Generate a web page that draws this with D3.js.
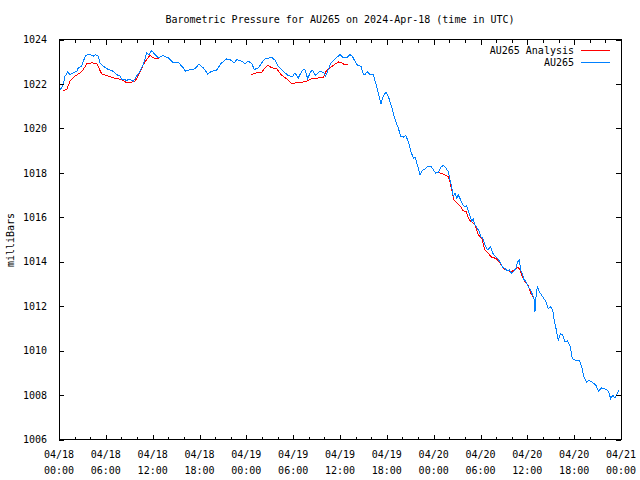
<!DOCTYPE html>
<html>
<head>
<meta charset="utf-8">
<script src="https://cdn.jsdelivr.net/npm/d3@7"></script>
<style>
html,body{margin:0;padding:0;background:#fff;}
svg text{font-family:"DejaVu Sans Mono","Liberation Mono",monospace;font-size:10px;fill:#000;}
</style>
</head>
<body>
<svg id="chart" width="640" height="480"></svg>
<script>
// ---- data (hours since 2024-04-18 00:00 UTC, pressure in mb) ----
const title = "Barometric Pressure for AU265 on 2024-Apr-18 (time in UTC)";
const yLabel = "milliBars";
const seriesNames = ["AU265 Analysis", "AU265"];
const yTicks = [1006, 1008, 1010, 1012, 1014, 1016, 1018, 1020, 1022, 1024];
const startTime = "2024-04-18T00:00:00Z";

const stationHours = [0.13,0.55,0.77,1.11,1.41,1.83,2.27,2.47,2.91,3.11,3.42,3.97,4.39,4.70,5.03,5.25,5.68,6.32,6.96,7.39,7.81,8.03,8.67,9.10,9.52,9.95,10.38,10.80,11.23,11.53,11.88,12.30,12.72,13.36,14.00,14.64,15.28,15.92,16.23,16.78,17.42,17.94,18.49,19.05,19.56,20.20,20.75,21.48,22.03,22.46,22.76,23.41,23.83,24.25,24.69,25.02,25.53,25.97,26.39,26.90,27.16,27.67,28.09,28.73,29.37,29.89,30.23,30.66,31.17,31.51,31.86,32.16,32.45,32.89,33.31,33.86,34.17,34.50,34.85,35.27,35.78,36.00,36.42,36.86,37.28,37.57,37.92,38.27,38.69,38.98,39.20,39.50,39.84,40.26,40.57,40.90,41.25,41.54,41.89,42.19,42.53,42.83,43.13,43.47,43.77,44.11,44.41,44.75,45.09,45.39,45.61,45.95,46.25,46.54,46.89,47.23,47.66,47.95,48.26,48.59,48.94,49.23,49.58,49.87,50.09,50.31,50.51,50.73,50.95,51.15,51.46,51.72,52.01,52.23,52.56,52.87,53.07,53.29,53.59,53.84,54.02,54.28,54.57,54.87,55.12,55.30,55.56,55.85,56.15,56.49,56.84,57.14,57.43,57.69,57.99,58.29,58.55,58.76,58.97,59.15,59.40,59.57,59.83,60.12,60.43,60.68,60.85,60.98,61.11,61.27,61.62,62.04,62.39,62.68,62.99,63.25,63.41,63.67,63.96,64.27,64.53,64.82,65.12,65.46,65.76,66.10,66.65,66.96,67.26,67.60,67.93,68.45,68.79,69.09,69.52,70.16,70.37,70.68,70.93,71.23,71.52,71.78];
const stationValues = [1021.71,1021.97,1022.35,1022.53,1022.42,1022.50,1022.57,1022.72,1022.80,1023.02,1023.29,1023.32,1023.25,1023.32,1023.25,1022.95,1022.80,1022.65,1022.57,1022.42,1022.35,1022.20,1022.17,1022.20,1022.12,1022.35,1022.57,1022.87,1023.40,1023.32,1023.50,1023.32,1023.17,1023.28,1023.17,1022.95,1022.98,1022.72,1022.57,1022.65,1022.68,1022.90,1022.72,1022.45,1022.57,1022.62,1022.92,1023.13,1023.07,1022.95,1023.10,1023.02,1022.92,1023.02,1022.92,1022.65,1022.72,1022.95,1023.13,1023.17,1023.22,1023.07,1022.80,1022.57,1022.38,1022.32,1022.50,1022.27,1022.62,1022.65,1022.23,1022.50,1022.62,1022.38,1022.55,1022.53,1022.35,1022.65,1022.95,1023.10,1023.25,1023.32,1023.17,1023.17,1023.32,1023.25,1023.02,1022.83,1022.80,1022.45,1022.42,1022.55,1022.42,1022.42,1022.05,1021.60,1021.11,1021.44,1021.64,1021.44,1021.07,1020.69,1020.31,1020.02,1019.64,1019.61,1019.68,1019.41,1018.96,1018.66,1018.71,1018.32,1017.91,1018.10,1018.17,1018.29,1018.29,1018.14,1017.99,1018.01,1018.26,1018.33,1018.21,1018.06,1017.68,1017.38,1016.93,1017.08,1016.86,1017.01,1016.78,1016.56,1016.48,1016.51,1016.18,1015.84,1015.91,1015.66,1015.51,1015.35,1015.13,1015.06,1014.75,1014.53,1014.60,1014.68,1014.38,1014.26,1014.15,1014.00,1013.75,1013.70,1013.59,1013.63,1013.48,1013.59,1013.70,1014.00,1014.08,1013.63,1013.40,1013.21,1013.10,1012.87,1012.72,1012.50,1012.35,1011.74,1012.42,1012.87,1012.60,1012.39,1012.20,1011.90,1011.97,1011.82,1011.45,1011.00,1010.47,1010.77,1010.69,1010.39,1010.44,1010.24,1009.64,1009.57,1009.57,1009.27,1008.81,1008.59,1008.66,1008.54,1008.44,1008.18,1008.33,1008.24,1008.18,1007.84,1007.99,1007.88,1008.06,1008.24];

const analysisHours1 = [0.55,0.99,1.41,2.05,2.69,3.11,3.55,4.19,4.83,5.47,6.32,6.96,7.60,8.03,8.67,9.31,9.74,10.38,10.80,11.23,11.66,12.08,12.52,12.81];
const analysisValues1 = [1021.71,1021.74,1022.12,1022.35,1022.50,1022.65,1022.90,1022.95,1022.92,1022.45,1022.35,1022.27,1022.23,1022.20,1022.05,1022.08,1022.12,1022.53,1022.87,1023.10,1023.29,1023.17,1023.14,1023.14];
const analysisHours2 = [24.60,25.33,25.97,26.39,26.74,27.33,27.89,28.44,29.17,29.81,30.45,31.09,31.73,32.37,33.22,33.86,34.29,34.72,35.27,35.78,36.22,36.55,36.98];
const analysisValues2 = [1022.42,1022.50,1022.53,1022.72,1022.83,1022.72,1022.68,1022.42,1022.23,1022.02,1022.05,1022.08,1022.12,1022.23,1022.27,1022.30,1022.62,1022.72,1022.87,1022.99,1022.95,1022.87,1022.87];
const analysisHours3 = [48.68,49.45,49.87,50.09,50.31,50.60,51.03,51.46,51.72,52.14,52.56,53.00,53.29,53.72,54.15,54.57,54.99,55.43,55.98,56.41,56.92,57.56,57.99,58.42,58.84,59.06,59.28,59.70,60.12,60.43,60.76];
const analysisValues3 = [1018.01,1017.91,1017.83,1017.61,1017.23,1016.78,1016.63,1016.48,1016.29,1016.26,1015.88,1015.76,1015.66,1015.20,1015.06,1014.53,1014.38,1014.20,1014.15,1014.00,1013.70,1013.59,1013.55,1013.66,1013.75,1013.63,1013.40,1013.10,1012.95,1012.57,1012.42];

// ---- build ----
const t0 = new Date(startTime).getTime();
const toDate = h => new Date(t0 + h * 3600e3);
const zip = (hs, vs) => hs.map((h, i) => ({t: toDate(h), v: vs[i]}));
const station = zip(stationHours, stationValues);
const analysis = [zip(analysisHours1, analysisValues1), zip(analysisHours2, analysisValues2), zip(analysisHours3, analysisValues3)];

const L = 59, R = 621, T = 39.5, B = 439.5;
const svg = d3.select("#chart");
const x = d3.scaleUtc().domain([toDate(0), toDate(72)]).range([L, R]);
const y = d3.scaleLinear().domain([1006, 1024]).range([B, T]);

const line = d3.line().x(d => x(d.t)).y(d => y(d.v));

// series
const g = svg.append("g");
analysis.forEach(seg => {
  g.append("path").datum(seg).attr("d", line)
    .attr("fill", "none").attr("stroke", "#ff0000").attr("stroke-width", 1)
    .attr("shape-rendering", "crispEdges");
});
g.append("path").datum(station).attr("d", line)
  .attr("fill", "none").attr("stroke", "#0080ff").attr("stroke-width", 1)
  .attr("shape-rendering", "crispEdges");

// axes: ticks inside
const majorX = d3.utcHour.every(6).range(toDate(0), toDate(72.01));
const minorX = d3.utcHour.every(2).range(toDate(0), toDate(72.01));
const fmtD = d3.utcFormat("%m/%d"), fmtT = d3.utcFormat("%H:%M");

const bottomAxis = d3.axisBottom(x).tickValues(majorX).tickSize(-5).tickFormat("");
const topAxis = d3.axisTop(x).tickValues(majorX).tickSize(-5).tickFormat("");
const bottomMinor = d3.axisBottom(x).tickValues(minorX).tickSize(-3).tickFormat("");
const topMinor = d3.axisTop(x).tickValues(minorX).tickSize(-3).tickFormat("");
const leftAxis = d3.axisLeft(y).tickValues(yTicks).tickSize(-5).tickPadding(12).tickFormat(d3.format("d"));
const rightAxis = d3.axisRight(y).tickValues(yTicks).tickSize(-5).tickFormat("");

function style(sel){
  sel.select(".domain").remove();
  sel.selectAll("line").attr("stroke", "#000").attr("shape-rendering", "crispEdges");
  sel.selectAll("text").attr("font-family", null).attr("font-size", null);
  sel.attr("font-family", null).attr("font-size", null);
}
svg.append("g").attr("transform", `translate(0,${B})`).call(bottomAxis).call(style);
svg.append("g").attr("transform", `translate(0,${B})`).call(bottomMinor).call(style);
svg.append("g").attr("transform", `translate(0,${T})`).call(topAxis).call(style);
svg.append("g").attr("transform", `translate(0,${T})`).call(topMinor).call(style);
svg.append("g").attr("transform", `translate(${L},0)`).call(leftAxis).call(style);
svg.append("g").attr("transform", `translate(${R},0)`).call(rightAxis).call(style);

// x tick labels (two lines)
const xl = svg.append("g");
majorX.forEach(d => {
  const t = xl.append("text").attr("x", x(d)).attr("text-anchor", "middle");
  t.append("tspan").attr("x", x(d)).attr("y", 458).text(fmtD(d));
  t.append("tspan").attr("x", x(d)).attr("y", 474).text(fmtT(d));
});

// border
svg.append("rect").attr("x", L).attr("y", T).attr("width", R - L).attr("height", B - T)
  .attr("fill", "none").attr("stroke", "#000").attr("shape-rendering", "crispEdges");

// title
svg.append("text").attr("x", 340).attr("y", 23).attr("text-anchor", "middle").text(title);
// y label
svg.append("text").attr("transform", "translate(14,240) rotate(-90)").attr("text-anchor", "middle").text(yLabel);

// legend
const legColors = ["#ff0000", "#0080ff"];
seriesNames.forEach((name, i) => {
  const yy = 50 + i * 12;
  svg.append("text").attr("x", 574).attr("y", yy + 3.5).attr("text-anchor", "end").text(name);
  svg.append("line").attr("x1", 581).attr("x2", 610).attr("y1", yy).attr("y2", yy)
    .attr("stroke", legColors[i]).attr("shape-rendering", "crispEdges");
});
</script>
</body>
</html>
